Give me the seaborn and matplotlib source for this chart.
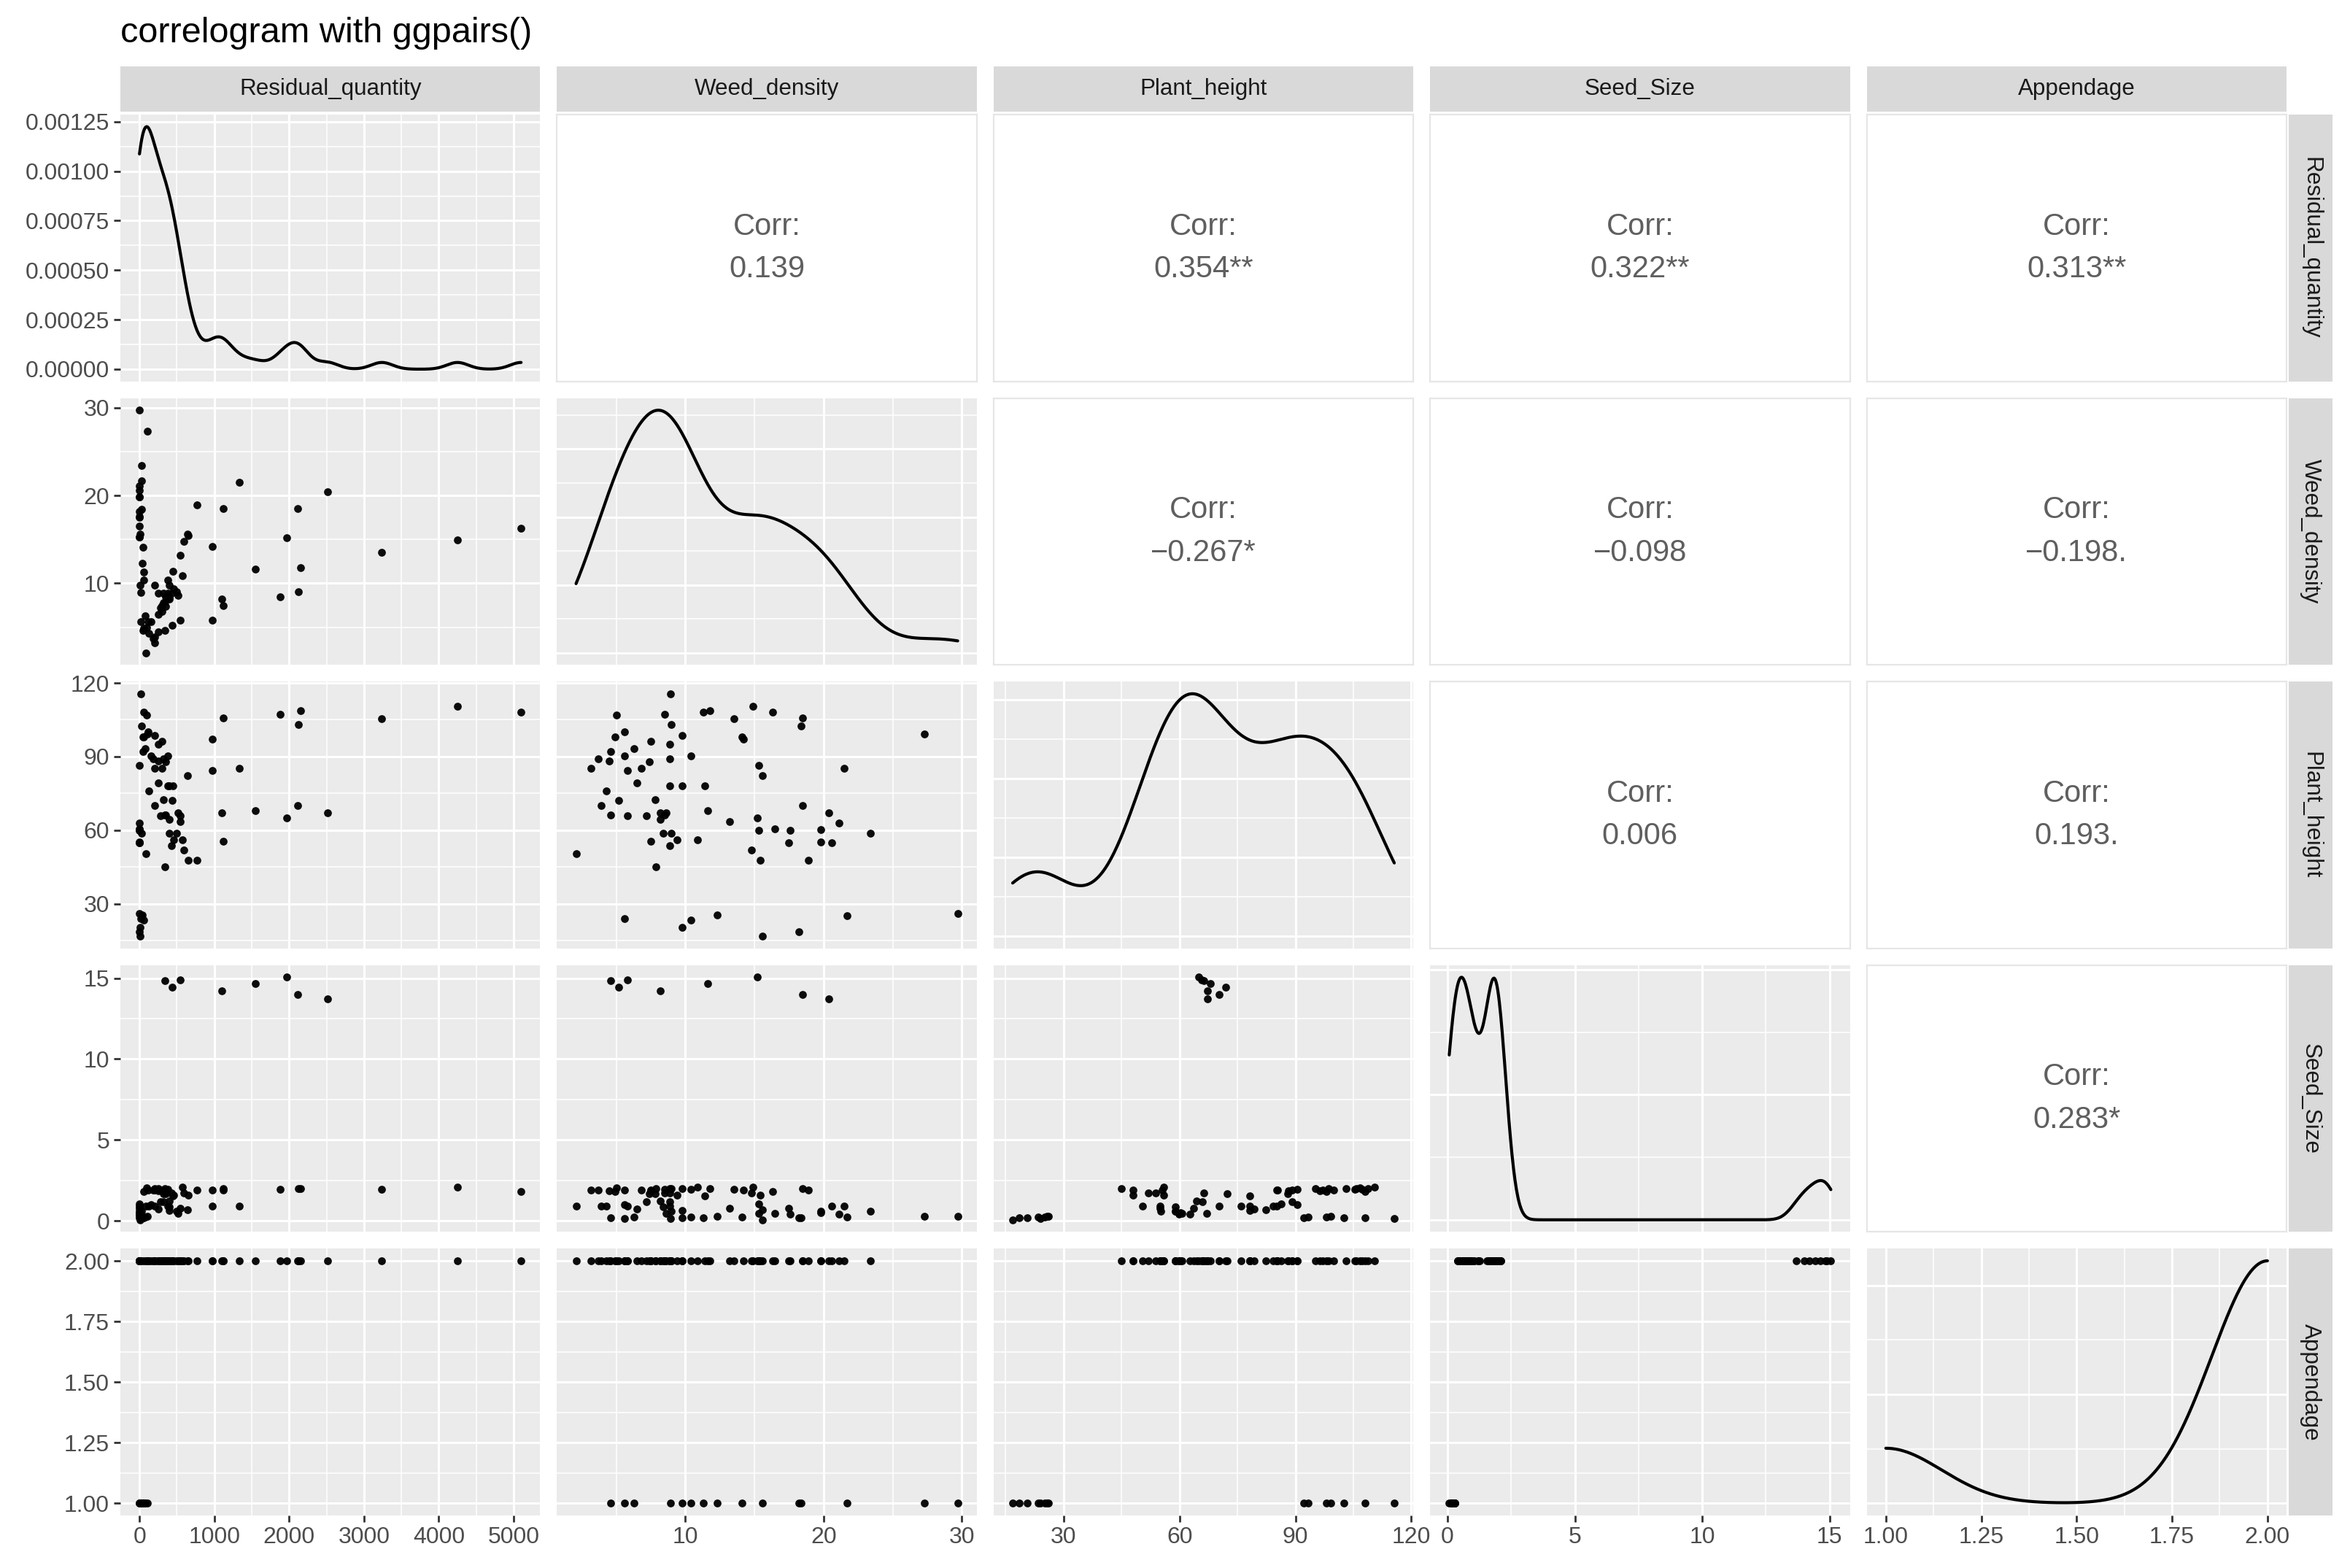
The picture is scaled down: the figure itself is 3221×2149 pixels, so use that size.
import numpy as np
import pandas as pd
import matplotlib
matplotlib.use("Agg")
import matplotlib.pyplot as plt
import seaborn as sns
from matplotlib.ticker import FixedLocator, MaxNLocator, AutoMinorLocator

# samples (same order in every list)
residual_quantity = [
    340, 440, 540, 1100, 1550, 1965, 2110, 2510,
    20, 60, 10, 40, 5, 0, 30, 0, 50, 80, 20, 60, 110, 30, 50,
    5100, 4250, 3240, 2150, 2120, 1880, 1330, 1120, 1120, 970, 970,
    100, 60, 120, 200, 300, 250, 180, 150, 250, 280,
    350, 320, 380, 200, 300, 400, 0, 640, 250, 380,
    400, 450, 130, 320, 200, 350, 520, 0, 540, 0,
    0, 0, 0, 0, 0, 30, 400, 500, 460, 430,
    570, 0, 590, 650, 770, 85, 340,
]
weed_density = [
    4.6, 5.2, 5.8, 8.2, 11.6, 15.2, 18.5, 20.4,
    5.6, 10.4, 9.8, 12.3, 15.6, 18.2, 21.7, 29.7, 4.6, 6.3, 8.95, 11.3, 27.3, 18.4, 14.1,
    16.3, 14.9, 13.5, 11.8, 9.0, 8.5, 21.5, 18.5, 7.5, 14.2, 5.8,
    5.0, 4.9, 5.6, 9.8, 7.5, 8.9, 3.7, 5.6, 4.5, 7.2,
    7.4, 8.9, 10.4, 3.2, 6.8, 8.2, 15.3, 15.6, 6.5, 8.9,
    9.8, 11.4, 4.3, 7.8, 3.9, 8.5, 8.6, 21.1, 13.2, 15.3,
    16.5, 17.6, 19.8, 19.8, 20.6, 23.4, 8.4, 9.0, 9.4, 8.9,
    10.9, 17.5, 14.8, 15.4, 18.9, 2.1, 7.9,
]
plant_height = [
    66.2, 72.0, 65.8, 67.2, 68.0, 65.0, 70.2, 67.2,
    24.0, 23.4, 20.5, 25.6, 16.8, 18.6, 25.2, 26.0, 92.2, 93.3, 115.6, 108.0, 99.2, 102.6, 98.0,
    108.0, 110.5, 105.3, 108.7, 103.1, 107.2, 85.1, 105.8, 55.5, 97.0, 84.2,
    106.8, 98.0, 100.0, 98.5, 96.3, 95.1, 89.2, 90.4, 88.2, 66.0,
    88.0, 89.2, 90.4, 85.1, 85.3, 64.5, 86.4, 82.3, 79.4, 78.2,
    78.2, 78.2, 76.0, 72.4, 70.2, 66.2, 67.0, 62.8, 63.6, 59.9,
    60.6, 59.9, 60.3, 55.2, 54.9, 58.9, 58.9, 58.9, 56.0, 53.8,
    56.0, 54.9, 52.0, 47.9, 47.9, 50.4, 45.0,
]
seed_size = [
    14.85, 14.45, 14.9, 14.2, 14.65, 15.05, 14.0, 13.7,
    0.15, 0.25, 0.2, 0.3, 0.07, 0.2, 0.25, 0.3, 0.2, 0.25, 0.15, 0.2, 0.3, 0.2, 0.25,
    1.8, 2.1, 1.95, 2.0, 2.0, 1.95, 0.9, 2.0, 1.9, 1.9, 0.9,
    2.05, 1.8, 1.9, 2.0, 1.85, 2.0, 1.9, 1.0, 1.85, 1.2,
    1.7, 1.2, 1.95, 1.9, 1.9, 1.25, 1.05, 0.7, 0.75, 0.93,
    0.65, 1.56, 0.9, 1.67, 0.9, 1.74, 0.47, 0.4, 0.8, 0.45,
    0.47, 0.4, 0.5, 0.6, 0.9, 0.6, 0.86, 0.6, 1.6, 1.75,
    2.1, 0.8, 1.75, 1.6, 1.9, 0.93, 2.0,
]
appendage = [
    2, 2, 2, 2, 2, 2, 2, 2,
    1, 1, 1, 1, 1, 1, 1, 1, 1, 1, 1, 1, 1, 1, 1,
    2, 2, 2, 2, 2, 2, 2, 2, 2, 2, 2,
    2, 2, 2, 2, 2, 2, 2, 2, 2, 2,
    2, 2, 2, 2, 2, 2, 2, 2, 2, 2,
    2, 2, 2, 2, 2, 2, 2, 2, 2, 2,
    2, 2, 2, 2, 2, 2, 2, 2, 2, 2,
    2, 2, 2, 2, 2, 2, 2,
]

variables = ["Residual_quantity", "Weed_density", "Plant_height", "Seed_Size", "Appendage"]

# correlation labels shown in the upper triangle
corr_text = {
    (0, 1): "0.139", (0, 2): "0.354**", (0, 3): "0.322**", (0, 4): "0.313**",
    (1, 2): "\u22120.267*", (1, 3): "\u22120.098", (1, 4): "\u22120.198.",
    (2, 3): "0.006", (2, 4): "0.193.",
    (3, 4): "0.283*",
}

axis_ticks = {
    "Residual_quantity": [0, 1000, 2000, 3000, 4000, 5000],
    "Weed_density": [10, 20, 30],
    "Plant_height": [30, 60, 90, 120],
    "Seed_Size": [0, 5, 10, 15],
    "Appendage": [1.00, 1.25, 1.50, 1.75, 2.00],
}
tick_fmt = {
    "Residual_quantity": "{:.0f}", "Weed_density": "{:.0f}", "Plant_height": "{:.0f}",
    "Seed_Size": "{:.0f}", "Appendage": "{:.2f}",
}
density_ticks = [0, 0.00025, 0.0005, 0.00075, 0.001, 0.00125]

df = pd.DataFrame({
    "Residual_quantity": residual_quantity,
    "Weed_density": weed_density,
    "Plant_height": plant_height,
    "Seed_Size": seed_size,
    "Appendage": appendage,
})

sns.set_theme(style="darkgrid")
plt.rcParams["font.family"] = ["Liberation Sans", "DejaVu Sans"]

W, H = 3221, 2149
DPI = 200
fig = plt.figure(figsize=(W / DPI, H / DPI), dpi=DPI, facecolor="white")

PW, PH, GAP = 575.4, 365.6, 23.0
LEFT0, TOP0 = 165.0, 157.0
PANEL_BG = "#EBEBEB"
STRIP_BG = "#D9D9D9"
TICK_C = "#4D4D4D"


def limits(v):
    lo, hi = df[v].min(), df[v].max()
    pad = 0.05 * (hi - lo)
    return lo - pad, hi + pad


def nrd0_factor(x):
    # R's default bandwidth expressed as a scipy factor
    x = np.asarray(x, float)
    sd = x.std(ddof=1)
    q75, q25 = np.percentile(x, [75, 25])
    lo = min(sd, (q75 - q25) / 1.34)
    if lo == 0:
        lo = sd
    return 0.9 * lo * len(x) ** -0.2 / sd


def rect(left, top, w, h):
    return [left / W, 1 - (top + h) / H, w / W, h / H]


def style_grid(ax):
    ax.set_facecolor(PANEL_BG)
    for s in ax.spines.values():
        s.set_visible(False)
    ax.set_axisbelow(True)
    ax.grid(which="major", color="white", linewidth=1.1)
    ax.grid(which="minor", color="white", linewidth=0.55)


n = len(variables)
for i, yv in enumerate(variables):
    for j, xv in enumerate(variables):
        left = LEFT0 + j * (PW + GAP)
        top = TOP0 + i * (PH + GAP)
        ax = fig.add_axes(rect(left, top, PW, PH))

        if j > i:
            ax.set_facecolor("white")
            for s in ax.spines.values():
                s.set_color("#E6E6E6")
                s.set_linewidth(0.8)
            ax.grid(False)
            ax.set_xticks([])
            ax.set_yticks([])
            ax.text(0.5, 0.5, "Corr:\n" + corr_text[(i, j)], ha="center", va="center",
                    transform=ax.transAxes, fontsize=15, color="#5F5F5F", linespacing=1.6)
            continue

        style_grid(ax)
        if i == j:
            sns.kdeplot(x=df[xv], ax=ax, bw_method=nrd0_factor(df[xv]), cut=0,
                        gridsize=512, color="black", linewidth=1.5)
            ymax = ax.lines[-1].get_ydata().max()
            ax.set_ylim(-0.05 * ymax, 1.05 * ymax)
            if i == 0:
                ax.yaxis.set_major_locator(FixedLocator(density_ticks))
                ax.set_yticklabels(["{:.5f}".format(t) for t in density_ticks])
            else:
                ax.yaxis.set_major_locator(MaxNLocator(nbins=4, steps=[1, 2, 2.5, 5, 10]))
        else:
            sns.scatterplot(x=df[xv], y=df[yv], ax=ax, color="black", s=15,
                            linewidth=0, alpha=0.95, legend=False)
            ax.set_ylim(*limits(yv))
            ax.yaxis.set_major_locator(FixedLocator(axis_ticks[yv]))
            ax.set_yticklabels([tick_fmt[yv].format(t) for t in axis_ticks[yv]])

        ax.set_xlim(*limits(xv))
        ax.xaxis.set_major_locator(FixedLocator(axis_ticks[xv]))
        ax.set_xticklabels([tick_fmt[xv].format(t) for t in axis_ticks[xv]])
        ax.xaxis.set_minor_locator(AutoMinorLocator(2))
        ax.yaxis.set_minor_locator(AutoMinorLocator(2))
        ax.set_xlabel("")
        ax.set_ylabel("")

        ax.tick_params(which="major", length=3.4, width=1.0, color="#333333",
                       labelcolor=TICK_C, labelsize=11.5, pad=2)
        ax.tick_params(which="minor", length=0)
        ax.tick_params(axis="x", bottom=(i == n - 1), labelbottom=(i == n - 1))
        ax.tick_params(axis="y", left=(j == 0), labelleft=(j == 0))

# column strips
for j, v in enumerate(variables):
    left = LEFT0 + j * (PW + GAP)
    sax = fig.add_axes(rect(left, 91, PW, 62))
    sax.set_facecolor(STRIP_BG)
    sax.set_xticks([])
    sax.set_yticks([])
    sax.grid(False)
    for s in sax.spines.values():
        s.set_visible(False)
    sax.text(0.5, 0.5, v, ha="center", va="center", transform=sax.transAxes,
             fontsize=11.3, color="#1A1A1A")

# row strips
for i, v in enumerate(variables):
    top = TOP0 + i * (PH + GAP)
    sax = fig.add_axes(rect(3137, top, 60, PH))
    sax.set_facecolor(STRIP_BG)
    sax.set_xticks([])
    sax.set_yticks([])
    sax.grid(False)
    for s in sax.spines.values():
        s.set_visible(False)
    sax.text(0.5, 0.5, v, ha="center", va="center", rotation=-90,
             transform=sax.transAxes, fontsize=11.3, color="#1A1A1A")

fig.text(165 / W, 1 - 58 / H, "correlogram with ggpairs()", fontsize=17.5,
         ha="left", va="baseline", color="black")

fig.savefig("out.png", dpi=DPI, facecolor="white")
